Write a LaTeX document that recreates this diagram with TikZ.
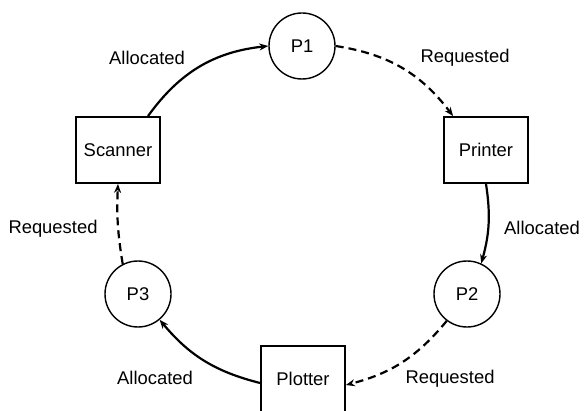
\documentclass[tikz,border=0pt]{standalone}
\usepackage{fontspec}
\setmainfont{Liberation Sans}
\usetikzlibrary{arrows.meta}

\begin{document}
\begin{tikzpicture}[x=1pt,y=-1pt,
    font=\fontsize{18.4}{21}\selectfont,
    proc/.style={draw,circle,line width=1.4pt,minimum size=66pt,inner sep=0pt},
    res/.style={draw,rectangle,line width=1.8pt,minimum width=84pt,minimum height=66pt,inner sep=0pt},
    alloc/.style={line width=2.2pt,-{Stealth[length=9pt,width=7pt]}},
    req/.style={line width=2.2pt,dash pattern=on 8pt off 5pt,-{Stealth[length=9pt,width=7pt]}}]
        \useasboundingbox (0,0) rectangle (588,411);
        % processes and resources
        \node[proc] (P1) at (302,46) {P1};
        \node[proc] (P2) at (467,294) {P2};
        \node[proc] (P3) at (138,294) {P3};
        \node[res] (printer) at (486,150) {Printer};
        \node[res] (scanner) at (118,150) {Scanner};
        \node[res] (plotter) at (303,379) {Plotter};
        % edges
        \draw[alloc] ([xshift=30pt]scanner.north) to[bend left=24] (P1.west);
        \draw[req] (P1.east) to[bend left=22] ([xshift=10pt]printer.north west);
        \draw[alloc] (printer.south) to[bend left=12] (P2.65);
        \draw[req] (P2.233) to[bend left=18] ([yshift=-6pt]plotter.east);
        \draw[alloc] ([yshift=-4pt]plotter.west) to[bend left=18] (P3.310);
        \draw[req] (P3.117) to[bend left=6] (scanner.south);
        % labels
        \node (l1) at (147,58) {Allocated};
        \node (l2) at (465,58) {Requested};
        \node (l3) at (542,228) {Allocated};
        \node (l4) at (450,379) {Requested};
        \node (l5) at (155,378) {Allocated};
        \node (l6) at (53,229) {Requested};
\end{tikzpicture}
\end{document}
